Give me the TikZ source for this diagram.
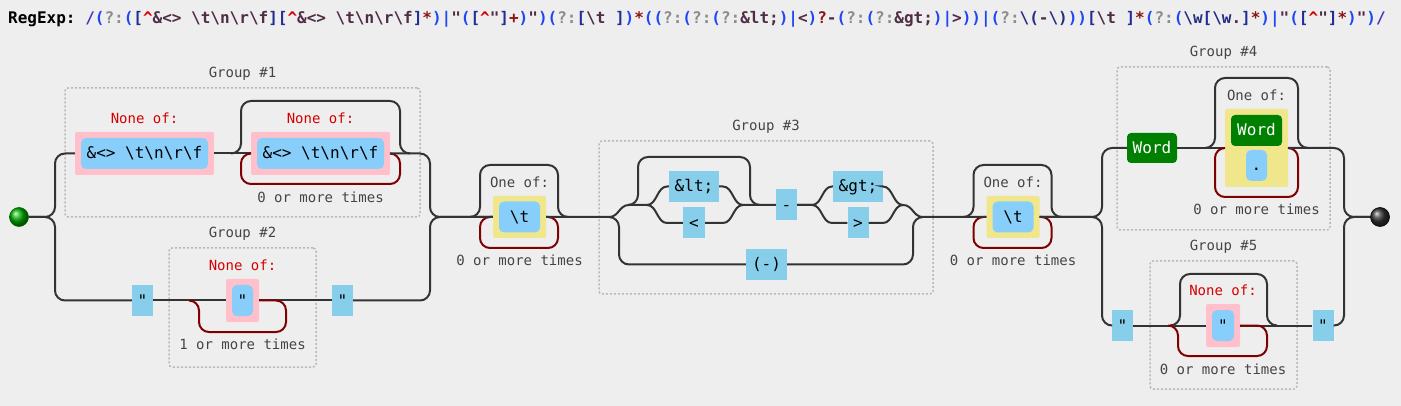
\documentclass[tikz,border=0pt]{standalone}
\usepackage{fontspec}
\setmonofont{DejaVu Sans Mono}
\usepackage{tikz}
\usetikzlibrary{positioning}

\definecolor{bgc}{RGB}{238,238,238}
\definecolor{railc}{RGB}{51,51,51}
\definecolor{loopc}{RGB}{128,0,0}
\definecolor{litc}{RGB}{135,206,235}
\definecolor{itemc}{RGB}{135,206,250}
\definecolor{nonec}{RGB}{255,192,203}
\definecolor{onec}{RGB}{240,230,140}
\definecolor{wordc}{RGB}{0,128,0}
\definecolor{grpc}{RGB}{185,185,185}
\definecolor{txtc}{RGB}{68,68,68}
\definecolor{redc}{RGB}{212,0,0}
% title colours
\definecolor{rxslash}{RGB}{85,45,185}
\definecolor{rxparen}{RGB}{30,70,245}
\definecolor{rxgray}{RGB}{140,140,140}
\definecolor{rxbrack}{RGB}{35,45,150}
\definecolor{rxhatc}{RGB}{215,0,0}
\definecolor{rxlit}{RGB}{80,45,70}
\definecolor{rxquant}{RGB}{140,20,20}
\definecolor{rxesc}{RGB}{35,45,130}

\newcommand{\boxfont}{\ttfamily\fontsize{16}{19}\selectfont}
\newcommand{\lblfont}{\ttfamily\fontsize{14}{17}\selectfont}
\newcommand{\rxtitlefont}{\ttfamily\bfseries\fontsize{16}{19}\selectfont}
\newcommand{\bsl}{\textbackslash}
\newcommand{\rxS}[1]{\textcolor{rxslash}{#1}}
\newcommand{\rxP}[1]{\textcolor{rxparen}{#1}}
\newcommand{\rxG}[1]{\textcolor{rxgray}{#1}}
\newcommand{\rxB}[1]{\textcolor{rxbrack}{#1}}
\newcommand{\rxL}[1]{\textcolor{rxlit}{#1}}
\newcommand{\rxQ}[1]{\textcolor{rxquant}{#1}}
\newcommand{\rxE}[1]{\textcolor{rxesc}{#1}}
\newcommand{\rxhat}{\textcolor{rxhatc}{\textasciicircum}}

\begin{document}
\begin{tikzpicture}[x=1pt, y=-1pt, node distance=8pt,
    track/.style={draw=railc, line width=2pt, rounded corners=10pt},
    loopline/.style={draw=loopc, line width=2pt, rounded corners=10pt},
    grp/.style={draw=grpc, line width=1.5pt, dash pattern=on 2pt off 2pt, rounded corners=3pt, inner sep=0pt},
    lit/.style={fill=litc, inner sep=0pt, font=\boxfont, text height=12.5pt, text depth=1.5pt, minimum height=31pt},
    citem/.style={lit, fill=itemc, rounded corners=5pt},
    word/.style={lit, fill=wordc, text=white, rounded corners=4pt},
    noneof/.style={fill=nonec, inner sep=0pt, minimum height=43pt, rounded corners=2pt},
    oneof/.style={fill=onec, inner sep=0pt, rounded corners=2pt},
    lbl/.style={font=\lblfont, text=txtc, inner sep=0pt, text height=10.5pt, text depth=0pt},
    redlbl/.style={lbl, text=redc}]

    \path[fill=bgc, use as bounding box] (0,0) rectangle (1401,406);

    \node[anchor=base west, inner sep=0pt, font=\rxtitlefont] (title) at (8,23.5) {RegExp: \rxS{/}\rxP{(}\rxG{?:}\rxP{(}\rxB{[}\rxhat\rxL{\&<> \bsl t\bsl n\bsl r\bsl f}\rxB{]}\rxB{[}\rxhat\rxL{\&<> \bsl t\bsl n\bsl r\bsl f}\rxB{]}\rxQ{*}\rxP{)|}\rxL{"}\rxP{(}\rxB{[}\rxhat\rxL{"}\rxB{]}\rxQ{+}\rxP{)}\rxL{"}\rxP{)(}\rxG{?:}\rxB{[}\rxL{\bsl t }\rxB{]}\rxP{)}\rxQ{*}\rxP{((}\rxG{?:}\rxP{(}\rxG{?:}\rxP{(}\rxG{?:}\rxL{\&lt;}\rxP{)|}\rxL{<}\rxP{)}\rxQ{?}\rxL{-}\rxP{(}\rxG{?:}\rxP{(}\rxG{?:}\rxL{\&gt;}\rxP{)|}\rxL{>}\rxP{))|(}\rxG{?:}\rxE{\bsl(}\rxL{-}\rxE{\bsl)}\rxP{))}\rxB{[}\rxL{\bsl t }\rxB{]}\rxQ{*}\rxP{(}\rxG{?:}\rxP{(}\rxE{\bsl w}\rxB{[}\rxE{\bsl w}\rxL{.}\rxB{]}\rxQ{*}\rxP{)|}\rxL{"}\rxP{(}\rxB{[}\rxhat\rxL{"}\rxB{]}\rxQ{*}\rxP{)}\rxL{"}\rxP{)}\rxS{/}};

    % Define groups
    \foreach \n/\cx/\cy/\gw/\gh in {1/242.5/152.5/355/129, 2/242.5/307.5/147/119, 3/766/217.5/334/153, 4/1223.5/148.5/213/163, 5/1223.5/325/147/128} {
        \node[grp, minimum width=\gw pt, minimum height=\gh pt] (g\n) at (\cx,\cy) {};
        \node[lbl, above=9.5pt of g\n] {Group \#\n};
    }

    % Define nodes
    \node[circle, inner sep=0pt, minimum size=19pt, ball color=green!70!black, draw=green!40!black, line width=0.6pt] (st) at (19,217) {};
    \node[circle, inner sep=0pt, minimum size=19pt, ball color=black!80, draw=black, line width=0.6pt] (fin) at (1380,217) {};

    \node[noneof, minimum width=139pt] (pk1) at (144.5,153.5) {};
    \node[citem, minimum width=127pt] (cs1) at (pk1) {\&<> \bsl t\bsl n\bsl r\bsl f};
    \node[redlbl, above=of pk1] {None of:};
    \node[noneof, minimum width=139pt] (pk2) at (320.5,153.5) {};
    \node[citem, minimum width=127pt] (cs2) at (pk2) {\&<> \bsl t\bsl n\bsl r\bsl f};
    \node[redlbl, above=of pk2] {None of:};
    \node[lbl, below=17pt of pk2] {0 or more times};

    \node[lit, minimum width=21pt] (q1) at (142.5,300.5) {"};
    \node[noneof, minimum width=33pt] (pk3) at (242.5,300.5) {};
    \node[citem, minimum width=21pt] (cs3) at (pk3) {"};
    \node[redlbl, above=of pk3] {None of:};
    \node[lbl, below=17pt of pk3] {1 or more times};
    \node[lit, minimum width=21pt] (q2) at (342.5,300.5) {"};

    \foreach \i/\cx in {1/519.5, 2/1013} {
        \node[oneof, minimum width=53pt, minimum height=42pt] (y\i) at (\cx,217) {};
        \node[citem, minimum width=41pt] (t\i) at (y\i) {\bsl t};
        \node[lbl, above=of y\i] {One of:};
        \node[lbl, below=17pt of y\i] {0 or more times};
        \draw[track] ({\cx-49.5},217) -| ({\cx-39.5},165) -| ({\cx+38.5},217) -- ({\cx+48.5},217);
        \draw[loopline] (y\i.west) -| ({\cx-39.5},248) -| ({\cx+38.5},217) -- (y\i.east);
    }

    \node[lit, minimum width=50pt] (lt) at (694,186.5) {\&lt;};
    \node[lit, minimum width=22pt] (lsym) at (694,223) {<};
    \node[lit, minimum width=21pt] (hyph) at (786.5,205) {-};
    \node[lit, minimum width=50pt] (gt) at (858,186.5) {\&gt;};
    \node[lit, minimum width=21pt] (gsym) at (858,223) {>};
    \node[lit, minimum width=41pt] (par) at (766.5,264.5) {(-)};

    \node[word, minimum width=50pt, minimum height=30pt] (w1) at (1152,148) {Word};
    \node[oneof, minimum width=63pt, minimum height=78pt] (y3) at (1256.5,148) {};
    \node[word, minimum width=51pt] (w2) at (1256.5,130.5) {Word};
    \node[citem, minimum width=21pt] (dot) at (1256.5,165.5) {.};
    \node[lbl, above=of y3] {One of:};
    \node[lbl, below=17pt of y3] {0 or more times};

    \node[lit, minimum width=21pt] (q3) at (1122.5,325.5) {"};
    \node[noneof, minimum width=34pt] (pk4) at (1223,325.5) {};
    \node[citem, minimum width=22pt] (cs4) at (pk4) {"};
    \node[redlbl, above=of pk4] {None of:};
    \node[lbl, below=17pt of pk4] {0 or more times};
    \node[lit, minimum width=21pt] (q4) at (1323,325.5) {"};

    % Draw rails
    \draw[track] (st.east) -- (55,217) |- (pk1.west);
    \draw[track] (st.east) -- (55,217) |- (q1.west);
    \draw[track] (pk1.east) -- (pk2.west);
    \draw[track] (231,153.5) -| (241,101) -| (400,153.5) -- (410,153.5);
    \draw[loopline] (pk2.west) -| (241,184) -| (400,153.5) -- (pk2.east);
    \draw[track] (pk2.east) -| (430,217) -- (y1.west);
    \draw[track] (q1.east) -- (pk3.west);
    \draw[track] (pk3.east) -- (q2.west);
    \draw[loopline] (189,300.5) -| (199,332) -| (286,300.5) -- (pk3.east);
    \draw[track] (q2.east) -| (430,217) -- (y1.west);

    % group 3
    \draw[track, sharp corners] (y1.east) -- (609,217) .. controls (619,217) and (619,205) .. (629,205) -- (647,205);
    \draw[track] (609,217) -| (619,264.5) -- (par.west);
    \draw[track] (par.east) -| (913,217) -- (923,217);
    \draw[track] (628,205) -| (638,157) -| (750,205) -- (760,205);
    \draw[track, sharp corners] (647,205) .. controls (657,205) and (657,186.5) .. (667,186.5) -- (lt.west);
    \draw[track, sharp corners] (647,205) .. controls (657,205) and (657,223) .. (667,223) -- (lsym.west);
    \draw[track, sharp corners] (lt.east) -- (723,186.5) .. controls (733,186.5) and (733,205) .. (743,205) -- (hyph.west);
    \draw[track, sharp corners] (lsym.east) -- (723,223) .. controls (733,223) and (733,205) .. (743,205);
    \draw[track, sharp corners] (hyph.east) -- (812,205) .. controls (822,205) and (822,186.5) .. (832,186.5) -- (gt.west);
    \draw[track, sharp corners] (hyph.east) -- (812,205) .. controls (822,205) and (822,223) .. (832,223) -- (gsym.west);
    \draw[track, sharp corners] (gt.east) -- (883,186.5) .. controls (893,186.5) and (893,205) .. (903,205) .. controls (913,205) and (913,217) .. (923,217) -- (y2.west);
    \draw[track, sharp corners] (gsym.east) -- (883,223) .. controls (893,223) and (893,205) .. (903,205);

    % groups 4 and 5
    \draw[track] (y2.east) -| (1102,148) -- (w1.west);
    \draw[track] (y2.east) -| (1102,325.5) -- (q3.west);
    \draw[track] (w1.east) -- (y3.west);
    \draw[track] (1205,148) -| (1215,78) -| (1298,148) -- (1308,148);
    \draw[loopline] (y3.west) -| (1215,197) -| (1298,148) -- (y3.east);
    \draw[track] (y3.east) -| (1344,217) -- (fin.west);
    \draw[track] (q3.east) -- (pk4.west);
    \draw[track] (pk4.east) -- (q4.west);
    \draw[track] (1170,325.5) -| (1180,274) -| (1267,325.5) -- (1277,325.5);
    \draw[loopline] (1168,325.5) -| (1178,356) -| (1267,325.5) -- (pk4.east);
    \draw[track] (q4.east) -| (1344,217) -- (fin.west);

\end{tikzpicture}
\end{document}
